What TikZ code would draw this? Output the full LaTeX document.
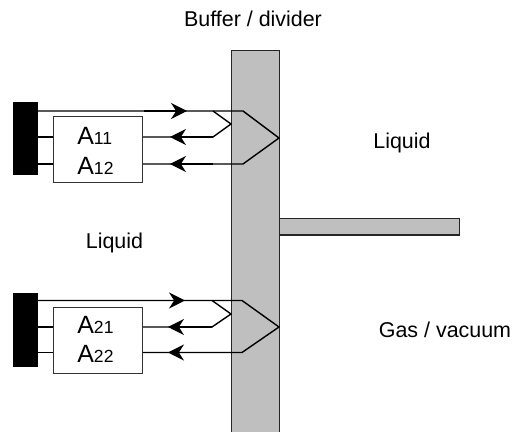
\documentclass[tikz,border=0pt]{standalone}
\usepackage{fontspec}
\setmainfont{Liberation Sans}
\usetikzlibrary{arrows.meta}
\tikzset{>={Stealth[width=3.2mm,length=3.2mm]}}
\tikzset{
  wall/.style={draw=black!85, fill=black!25, line width=0.6pt, inner sep=0pt, anchor=north west},
  sensor/.style={draw=black, fill=black, inner sep=0pt, minimum width=0.48cm, anchor=north west},
  amp/.style={draw=black!80, fill=white, line width=0.5pt, inner sep=0pt, minimum width=1.78cm, anchor=north west},
  ampname/.style={inner sep=0pt, anchor=base west, font=\fontsize{14.2}{16}\selectfont},
  lbl/.style={inner sep=0pt, anchor=base, font=\fontsize{12.2}{14}\selectfont},
  wire/.style={thick, black}
}
\newcommand{\idx}[1]{{\fontsize{10}{12}\selectfont #1}}

\begin{document}
\begin{tikzpicture}[x=0.02cm,y=-0.02cm]

  \useasboundingbox (0,0) rectangle (512,432);

  % wall and plate
  \node[wall, minimum width=0.96cm, minimum height=7.8cm] (bar) at (231,50) {};
  \node[wall, minimum width=3.6cm, minimum height=0.33cm] (plate) at (279,218) {};

  % upper sensor
  \node[sensor, minimum height=1.44cm] (padA) at (13,102) {};
  \node[amp, minimum height=1.32cm] (ampA) at (53,116) {};
  \node[ampname] (a11) at (77,145) {A\idx{11}};
  \node[ampname] (a12) at (77,175) {A\idx{12}};

  \coordinate (a1) at (37,111);
  \coordinate (a2) at (243,111);
  \coordinate (a3) at (279,138);
  \coordinate (a4) at (243,164);
  \coordinate (a5) at (213,111);
  \coordinate (a6) at (231,124);
  \coordinate (a7) at (213,137);

  \draw[wire] (a1) -- (a2) -- (a3) -- (a4) -- (a4 -| ampA.east);
  \draw[wire] (a5) -- (a6) -- (a7) -- (a7 -| ampA.east);
  \draw[wire] (a7 -| padA.east) -- (a7 -| ampA.west);
  \draw[wire] (a4 -| padA.east) -- (a4 -| ampA.west);
  \draw[wire,->] (144,111) -- (187,111);
  \draw[wire,->] (213,137) -- (170,137);
  \draw[wire,->] (213,164) -- (170,164);

  % lower sensor
  \node[sensor, minimum height=1.46cm] (padB) at (13,293) {};
  \node[amp, minimum height=1.32cm] (ampB) at (53,307) {};
  \node[ampname] (a21) at (77,334) {A\idx{21}};
  \node[ampname] (a22) at (77,363) {A\idx{22}};

  \coordinate (b1) at (37,300.5);
  \coordinate (b2) at (242,300.5);
  \coordinate (b3) at (279,327);
  \coordinate (b4) at (242,352.5);
  \coordinate (b5) at (212,300.5);
  \coordinate (b6) at (231,314);
  \coordinate (b7) at (212,327);

  \draw[wire] (b1) -- (b2) -- (b3) -- (b4) -- (b4 -| ampB.east);
  \draw[wire] (b5) -- (b6) -- (b7) -- (b7 -| ampB.east);
  \draw[wire] (b7 -| padB.east) -- (b7 -| ampB.west);
  \draw[wire] (b4 -| padB.east) -- (b4 -| ampB.west);
  \draw[wire,->] (142,300.5) -- (185,300.5);
  \draw[wire,->] (212,327) -- (168,327);
  \draw[wire,->] (212,352.5) -- (168,352.5);

  \node[lbl] (buffer) at (253,27) {Buffer / divider};
  \node[lbl] (liquidR) at (402,149) {Liquid};
  \node[lbl] (liquidL) at (114.5,249) {Liquid};
  \node[lbl] (gas) at (445,338) {Gas / vacuum};

\end{tikzpicture}
\end{document}
